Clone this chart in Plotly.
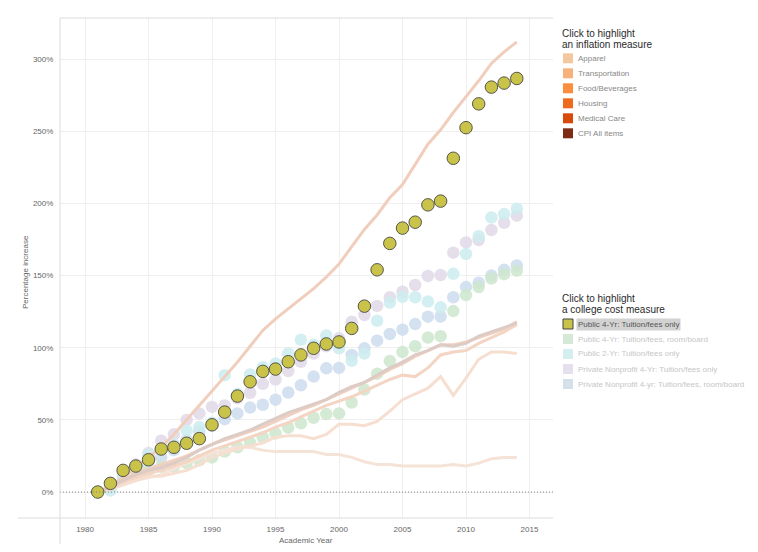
import plotly.graph_objects as go

# ---------------- data ----------------
years = list(range(1981, 2015))

# college cost measures (percentage increase since 1981)
pub4_tuition = [0, 6, 15, 18, 22.4, 29.8, 31, 33.8, 37, 46.6, 55.4, 66.5, 76.4, 83.6, 85.2, 90.3, 95,
                99.6, 102.6, 104, 113.4, 128.8, 154, 172.3, 182.9, 187, 199, 201.6, 231.3, 252.5,
                269, 280.6, 283.4, 286.6]
pub4_room = [0, 3, 9, 12, 15, 17.5, 17.5, 20, 22, 24, 28, 31, 34, 38, 40.7, 44.6, 47.6, 51.5, 54,
             54.5, 62, 71, 82, 90.8, 97, 101, 107, 108, 125.4, 136.5, 142, 148, 151, 153.4]
pub2_tuition = [0, 1, 10, 18, 26, 30, 33, 42.5, 45, 48, 81, 68, 81.5, 86.5, 89, 96, 105.5, 102,
                108.5, 99.6, 91, 96, 118.7, 131.3, 135.3, 135, 132, 128, 151.2, 165, 177.3, 190.3,
                192.6, 196.3]
priv4_tuition = [0, 4, 12, 19, 27, 35.6, 40, 50, 54.5, 59, 60, 65, 68.8, 75, 78, 83.8, 90.3, 96,
                 101, 106.5, 118, 122.7, 129, 135, 138.8, 143.5, 149.7, 150.4, 165.9, 173, 174.6,
                 181.6, 186.6, 191.5]
priv4_room = [0, 3, 9, 14, 19, 24, 29, 36, 42, 46, 50.5, 54.5, 58.5, 60.5, 64, 69, 74, 80, 85.7,
              86, 95, 99.6, 104.9, 109.5, 112.5, 116.4, 121.5, 121.5, 135, 142, 145, 150, 154, 157]

# inflation measures
apparel = [0, 2, 5, 8, 10, 12, 16, 20, 23, 27, 29, 31, 31, 29, 28, 28, 28, 28, 26, 26, 24, 21, 19,
           19, 18, 18, 18, 18, 19, 18, 20, 23, 24, 24]
transport = [0, 2, 5, 8, 11, 11, 13, 15, 19, 24, 27, 30, 32, 34, 38, 39, 39, 37, 40, 47, 47, 46, 49,
             56, 64, 68, 72, 80, 67, 79, 92, 97, 97, 96]
food = [0, 3, 7, 10, 13, 15, 18, 21, 25, 29, 32, 35, 38, 41, 45, 48, 52, 56, 60, 63, 66, 70, 74,
        78, 81, 80, 86, 95, 97, 98, 103, 107, 111, 116]
housing = [0, 4, 9, 13, 16, 19, 22, 25, 29, 33, 36, 39, 42, 45, 49, 53, 57, 60, 64, 68, 72, 76, 80,
           85, 89, 94, 98, 102, 102, 104, 107, 110, 113, 118]
medical = [0, 4, 10, 17, 24, 31, 40, 50, 60, 70, 80, 90, 101, 112, 120, 127, 134, 141, 149, 158,
           170, 182, 192, 204, 213, 227, 241, 251, 263, 274, 285, 297, 305, 312]
cpi = [0, 4, 8, 12, 15, 17, 20, 24, 29, 33, 37, 40, 43, 47, 51, 55, 58, 61, 64, 69, 73, 76, 81, 86,
       90, 95, 98, 102, 101, 103, 108, 111, 114, 117]

inflation_names = ["Apparel", "Transportation", "Food/Beverages", "Housing", "Medical Care", "CPI All items"]
inflation_colors = ["#f5c7a0", "#f7b27c", "#fb8d3d", "#ef6a1c", "#d84a0b", "#7e2a14"]
college_names = ["Public 4-Yr: Tuition/fees only", "Public 4-Yr: Tuition/fees, room/board",
                 "Public 2-Yr: Tuition/fees only", "Private Nonprofit 4-Yr: Tuition/fees only",
                 "Private Nonprofit 4-yr: Tuition/fees, room/board"]
college_swatch = ["#c9c449", "#d6e9d6", "#d5eef0", "#e6dfec", "#d5e1ea"]

y_ticks = [0, 50, 100, 150, 200, 250, 300]
x_ticks = [1980, 1985, 1990, 1995, 2000, 2005, 2010, 2015]

# ---------------- figure ----------------
FONT = "Liberation Sans, Arial, sans-serif"
PAGE_OFF = 8                      # default page body margin
L, R, T, B = 60, 553, 18, 518     # plot area in page pixels
W, H = 758 - PAGE_OFF, 552 - PAGE_OFF


def px(x):
    return (x - L) / (R - L)


def py(y):
    return (B - y) / (B - T)


fig = go.Figure()

# faded college cost dots
faded = [(priv4_room, "#cddced"), (pub4_room, "#cde6cd"), (priv4_tuition, "#e1d8e8"),
         (pub2_tuition, "#cdecef")]
for vals, col in faded:
    fig.add_trace(go.Scatter(x=years, y=vals, mode="markers",
                             marker=dict(size=12.5, color=col, opacity=0.85, line=dict(width=0)),
                             hoverinfo="skip", showlegend=False))

# faded inflation lines
line_cols = {"Apparel": "#f6e3d7", "Transportation": "#f6dfd0", "Food/Beverages": "#f4d4c3",
             "Housing": "#f2d0c0", "Medical Care": "#f1cdbc", "CPI All items": "#ddcbc5"}
for name, vals in zip(inflation_names, [apparel, transport, food, housing, medical, cpi]):
    fig.add_trace(go.Scatter(x=years, y=vals, mode="lines",
                             line=dict(color=line_cols[name], width=3),
                             hoverinfo="skip", showlegend=False))

# highlighted series
fig.add_trace(go.Scatter(x=years, y=pub4_tuition, mode="markers",
                         marker=dict(size=12.5, color="#c9c449", line=dict(width=1, color="#55554a")),
                         showlegend=False))

fig.update_layout(
    width=W, height=H,
    margin=dict(l=L - PAGE_OFF, r=758 - R, t=T - PAGE_OFF, b=552 - B),
    paper_bgcolor="white", plot_bgcolor="white",
    font=dict(family=FONT, size=8, color="#666"),
    showlegend=False,
)
fig.update_xaxes(range=[1978.03, 2016.85], tickvals=x_ticks, ticktext=[str(v) for v in x_ticks],
                 showgrid=True, gridcolor="#efefef", gridwidth=1, zeroline=False, showline=False,
                 ticks="outside", ticklen=3, tickcolor="rgba(0,0,0,0)",
                 tickfont=dict(size=8, color="#666", family=FONT))
fig.update_yaxes(range=[-18.0, 328.5], tickvals=y_ticks, ticktext=[f"{v}%" for v in y_ticks],
                 showgrid=True, gridcolor="#efefef", gridwidth=1, zeroline=False, showline=False,
                 ticks="outside", ticklen=4, tickcolor="rgba(0,0,0,0)",
                 tickfont=dict(size=8, color="#666", family=FONT))

shapes = []
# zero line (dotted)
shapes.append(dict(type="line", xref="paper", yref="y", x0=0, x1=1, y0=0, y1=0,
                   line=dict(color="#888", width=1, dash="1px,2px"), layer="above"))
# frame lines
shapes.append(dict(type="line", xref="paper", yref="paper", x0=px(18), x1=1, y0=0, y1=0,
                   line=dict(color="#dcdcdc", width=1)))
shapes.append(dict(type="line", xref="paper", yref="paper", x0=0, x1=0, y0=py(544), y1=1,
                   line=dict(color="#dcdcdc", width=1)))
shapes.append(dict(type="line", xref="paper", yref="paper", x0=0, x1=1, y0=1, y1=1,
                   line=dict(color="#dcdcdc", width=1)))

annotations = []
# axis titles
annotations.append(dict(text="Academic Year", xref="paper", yref="paper", x=px(306), y=py(540),
                        showarrow=False, font=dict(size=8, color="#666", family=FONT),
                        xanchor="center", yanchor="middle"))
annotations.append(dict(text="Percentage increase", xref="paper", yref="paper", x=px(25), y=py(272),
                        showarrow=False, textangle=-90, font=dict(size=8, color="#666", family=FONT),
                        xanchor="center", yanchor="middle"))

# legend 1: inflation measures
for i, t in enumerate(["Click to highlight", "an inflation measure"]):
    annotations.append(dict(text=t, xref="paper", yref="paper", x=px(560), y=py(33 + 11 * i),
                            showarrow=False, xanchor="left", yanchor="middle",
                            font=dict(size=10, color="#2a2a2a", family=FONT)))
for i, (name, col) in enumerate(zip(inflation_names, inflation_colors)):
    cy = 58.3 + 15 * i
    shapes.append(dict(type="rect", xref="paper", yref="paper", x0=px(563), x1=px(573),
                       y0=py(cy + 5), y1=py(cy - 5), fillcolor=col, line=dict(width=0)))
    annotations.append(dict(text=name, xref="paper", yref="paper", x=px(576), y=py(cy),
                            showarrow=False, xanchor="left", yanchor="middle",
                            font=dict(size=8, color="#888", family=FONT)))

# legend 2: college cost measures
for i, t in enumerate(["Click to highlight", "a college cost measure"]):
    annotations.append(dict(text=t, xref="paper", yref="paper", x=px(560), y=py(298 + 11 * i),
                            showarrow=False, xanchor="left", yanchor="middle",
                            font=dict(size=10, color="#2a2a2a", family=FONT)))
for i, (name, col) in enumerate(zip(college_names, college_swatch)):
    cy = 324 + 15 * i
    shapes.append(dict(type="rect", xref="paper", yref="paper", x0=px(563), x1=px(573),
                       y0=py(cy + 5), y1=py(cy - 5), fillcolor=col,
                       line=dict(width=1 if i == 0 else 0, color="#444")))
    if i == 0:
        annotations.append(dict(text=name, xref="paper", yref="paper", x=px(576), y=py(cy),
                                showarrow=False, xanchor="left", yanchor="middle",
                                bgcolor="#d2d2d2", borderpad=1,
                                font=dict(size=8, color="#555", family=FONT)))
    else:
        annotations.append(dict(text=name, xref="paper", yref="paper", x=px(576), y=py(cy),
                                showarrow=False, xanchor="left", yanchor="middle",
                                font=dict(size=8, color="#c6c6c6", family=FONT)))

fig.update_layout(shapes=shapes, annotations=annotations)
fig.write_html("out.html")
